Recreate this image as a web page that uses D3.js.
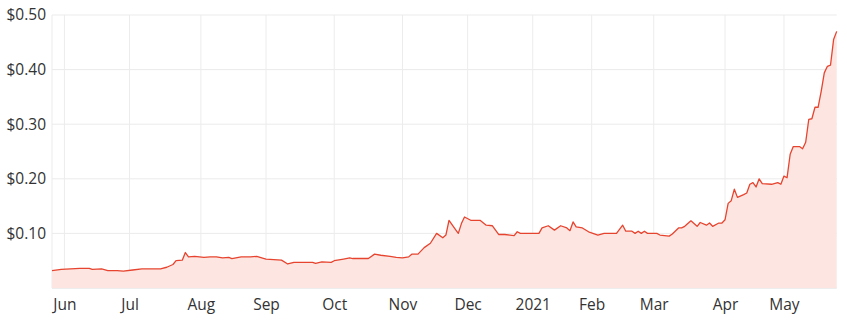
<!DOCTYPE html>
<html>
<head>
<meta charset="utf-8">
<script src="https://cdn.jsdelivr.net/npm/d3@7"></script>
<style>
  body { margin: 0; background: #fff; }
  svg text { font-family: "Open Sans", sans-serif; fill: #333; }
</style>
</head>
<body>
<div id="chart"></div>
<script>
// Share price readings (date, AUD)
const dates = [
  "2020-05-26","2020-05-29","2020-06-03","2020-06-09","2020-06-12","2020-06-15","2020-06-18","2020-06-22",
  "2020-06-25","2020-06-29","2020-07-02","2020-07-07","2020-07-15","2020-07-17","2020-07-21","2020-07-22",
  "2020-07-24","2020-07-27","2020-07-28","2020-07-30","2020-08-04","2020-08-06","2020-08-10","2020-08-12",
  "2020-08-14","2020-08-17","2020-08-20","2020-08-25","2020-08-27","2020-09-01","2020-09-08","2020-09-10",
  "2020-09-14","2020-09-22","2020-09-23","2020-09-25","2020-09-30","2020-10-01","2020-10-06","2020-10-08",
  "2020-10-09","2020-10-16","2020-10-20","2020-10-22","2020-10-27","2020-10-29","2020-11-02","2020-11-04",
  "2020-11-05","2020-11-09","2020-11-11","2020-11-13","2020-11-17","2020-11-19","2020-11-20","2020-11-23",
  "2020-11-25","2020-11-26","2020-11-27","2020-11-30","2020-12-02","2020-12-07","2020-12-09","2020-12-11",
  "2020-12-15","2020-12-17","2020-12-22","2020-12-23","2020-12-24","2021-01-06","2021-01-07","2021-01-11",
  "2021-01-13","2021-01-15","2021-01-19","2021-01-20","2021-01-21","2021-01-22","2021-01-27","2021-01-29",
  "2021-02-03","2021-02-05","2021-02-11","2021-02-15","2021-02-16","2021-02-18","2021-02-19","2021-02-22",
  "2021-02-23","2021-02-24","2021-02-25","2021-03-02","2021-03-03","2021-03-08","2021-03-09","2021-03-11",
  "2021-03-12","2021-03-15","2021-03-17","2021-03-18","2021-03-19","2021-03-22","2021-03-24","2021-03-25",
  "2021-03-26","2021-03-30","2021-03-31","2021-04-01","2021-04-06","2021-04-07","2021-04-08","2021-04-09",
  "2021-04-13","2021-04-14","2021-04-15","2021-04-16","2021-04-19","2021-04-20","2021-04-21","2021-04-27",
  "2021-04-29","2021-04-30","2021-05-03","2021-05-04","2021-05-05","2021-05-06","2021-05-10","2021-05-11",
  "2021-05-12","2021-05-13","2021-05-14","2021-05-17","2021-05-18","2021-05-19","2021-05-20","2021-05-21",
  "2021-05-24","2021-05-25","2021-05-26"
];
const prices = [
  0.032,0.034,0.035,0.036,0.036,0.034,0.035,0.032,
  0.032,0.031,0.033,0.035,0.035,0.038,0.043,0.050,
  0.051,0.065,0.057,0.058,0.056,0.057,0.057,0.055,
  0.056,0.054,0.057,0.057,0.058,0.053,0.051,0.044,
  0.047,0.047,0.045,0.048,0.047,0.050,0.053,0.055,
  0.054,0.054,0.062,0.060,0.058,0.056,0.055,0.057,
  0.062,0.062,0.074,0.082,0.100,0.092,0.097,0.124,
  0.108,0.100,0.118,0.130,0.124,0.124,0.115,0.114,
  0.098,0.098,0.096,0.103,0.100,0.100,0.110,0.114,
  0.106,0.114,0.110,0.105,0.121,0.112,0.110,0.103,
  0.097,0.100,0.100,0.115,0.104,0.104,0.100,0.104,
  0.100,0.104,0.100,0.100,0.097,0.095,0.099,0.110,
  0.110,0.113,0.123,0.118,0.113,0.120,0.115,0.119,
  0.113,0.119,0.119,0.125,0.155,0.160,0.181,0.166,
  0.171,0.174,0.190,0.193,0.185,0.200,0.191,0.190,
  0.193,0.190,0.205,0.202,0.245,0.259,0.259,0.255,
  0.267,0.309,0.310,0.331,0.331,0.360,0.394,0.406,
  0.408,0.455,0.470
];
// ASX closures in the period
const holidays = ["2020-06-08","2020-12-25","2020-12-28","2021-01-01","2021-01-26","2021-04-02","2021-04-05","2021-04-26"];
const yTicks = [0.1, 0.2, 0.3, 0.4, 0.5];

const parse = d3.timeParse("%Y-%m-%d");
const fmt = d3.timeFormat("%Y-%m-%d");

// trading days only (x axis skips weekends and holidays)
const first = parse(dates[0]);
const last = parse(dates[dates.length - 1]);
const tradingDays = d3.timeDay.range(first, d3.timeDay.offset(last, 1))
    .filter(d => d.getDay() !== 0 && d.getDay() !== 6 && !holidays.includes(fmt(d)));
const dayIndex = d => d3.bisectLeft(tradingDays, d);

const data = dates.map((d, i) => ({ i: dayIndex(parse(d)), v: prices[i] }));

const svgWidth = 847, svgHeight = 322;
const plotLeft = 52, plotRight = 836.7, plotTop = 15, plotBottom = 288;

const svg = d3.select("#chart").append("svg")
    .attr("width", svgWidth)
    .attr("height", svgHeight);

const x = d3.scaleLinear().domain([0, tradingDays.length - 1]).range([plotLeft, plotRight]);
const y = d3.scaleLinear().domain([0, 0.5]).range([plotBottom, plotTop]);

// month ticks at first trading day of each month
const months = d3.timeMonth.range(new Date(2020, 5, 1), new Date(2021, 4, 2));
const monthTicks = months.map(m => ({ i: dayIndex(m), label: m.getMonth() === 0 ? d3.timeFormat("%Y")(m) : d3.timeFormat("%b")(m) }));

// grid
svg.append("g").selectAll("line")
    .data([0, 0.1, 0.2, 0.3, 0.4, 0.5])
    .join("line")
    .attr("x1", plotLeft).attr("x2", plotRight)
    .attr("y1", d => y(d)).attr("y2", d => y(d))
    .attr("stroke", d => d === 0 ? "#dcdcdc" : "#ebebeb")
    .attr("stroke-width", 1);

svg.append("g").selectAll("line")
    .data(monthTicks)
    .join("line")
    .attr("x1", d => x(d.i)).attr("x2", d => x(d.i))
    .attr("y1", plotTop).attr("y2", plotBottom)
    .attr("stroke", "#ececec");

svg.append("line")
    .attr("x1", plotLeft).attr("x2", plotLeft)
    .attr("y1", plotTop).attr("y2", plotBottom)
    .attr("stroke", "#ebebeb");

// area + line
const area = d3.area().x(d => x(d.i)).y0(y(0)).y1(d => y(d.v));
const line = d3.line().x(d => x(d.i)).y(d => y(d.v));

svg.append("path")
    .datum(data)
    .attr("d", area)
    .attr("fill", "#fde6e2");

svg.append("path")
    .datum(data)
    .attr("d", line)
    .attr("fill", "none")
    .attr("stroke", "#e6442f")
    .attr("stroke-width", 1.3)
    .attr("stroke-linejoin", "round");

// axes
const xAxis = d3.axisBottom(x)
    .tickValues(monthTicks.map(d => d.i))
    .tickFormat((d, k) => monthTicks[k].label)
    .tickSize(0)
    .tickPadding(11);
svg.append("g")
    .attr("transform", `translate(0,${plotBottom})`)
    .call(xAxis)
    .call(g => g.select(".domain").remove())
    .selectAll("text")
    .style("font-size", "15.5px")
    .attr("fill", "#333");

const yAxis = d3.axisLeft(y)
    .tickValues(yTicks)
    .tickFormat(d => "$" + d.toFixed(2))
    .tickSize(0)
    .tickPadding(6);
svg.append("g")
    .attr("transform", `translate(${plotLeft},0)`)
    .call(yAxis)
    .call(g => g.select(".domain").remove())
    .selectAll("text")
    .style("font-size", "15.5px")
    .attr("fill", "#333");
</script>
</body>
</html>
